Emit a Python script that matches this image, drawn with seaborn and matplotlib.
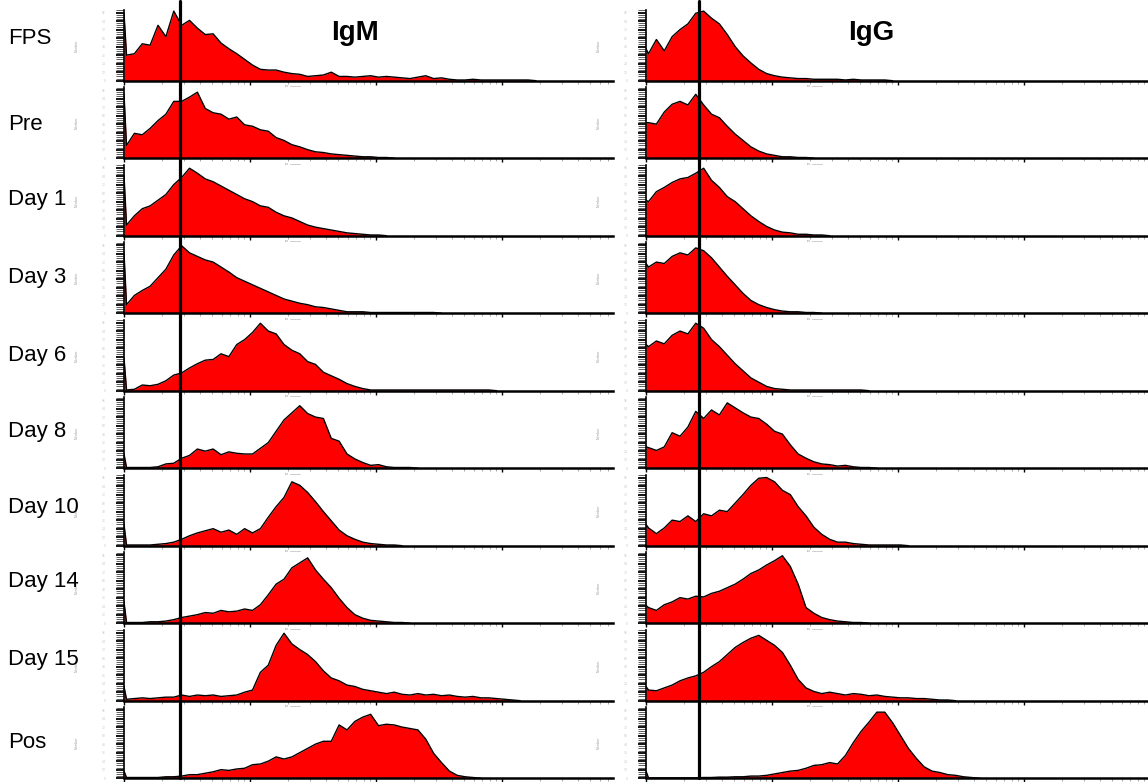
import numpy as np
import matplotlib
matplotlib.use("Agg")
import matplotlib.pyplot as plt
import seaborn as sns

# ---------------- data ----------------
samples = ["FPS", "Pre", "Day 1", "Day 3", "Day 6", "Day 8", "Day 10", "Day 14", "Day 15", "Pos"]
isotypes = ["IgM", "IgG"]

# Histogram heights (% of full scale), one value per 1/16-decade channel,
# first channel at 10^0.02; the "spike" is the first (lowest) channel at 10^0.
igm_fps = [36, 38, 52, 50, 78, 62, 98, 78, 85, 74, 65, 66, 53, 45, 38, 30, 22, 16, 15, 15,
           12, 10, 9, 6, 7, 8, 12, 6, 6, 5, 6, 7, 5, 6, 5, 4, 3, 5, 7, 3,
           4, 2, 1, 1, 2, 1, 1, 1, 1, 1, 1, 1, 0]
igm_pre = [18, 35, 33, 42, 53, 62, 80, 80, 86, 93, 70, 64, 62, 55, 58, 47, 45, 40, 38, 29,
           25, 19, 16, 12, 9, 8, 6, 5, 4, 3, 2, 2, 1, 1, 0]
igm_day1 = [15, 28, 38, 42, 50, 58, 72, 82, 95, 88, 80, 76, 70, 64, 58, 52, 48, 42, 40, 33,
            28, 25, 20, 15, 12, 10, 8, 6, 4, 3, 2, 1, 1, 0]
igm_day3 = [12, 25, 32, 38, 50, 62, 82, 95, 85, 80, 75, 72, 65, 58, 50, 45, 40, 35, 30, 25,
            20, 17, 14, 12, 9, 8, 6, 4, 2, 2, 2, 1, 1, 1, 1, 1, 1, 1, 1, 1, 0]
igm_day6 = [1, 2, 8, 7, 9, 14, 22, 25, 32, 38, 43, 44, 52, 48, 65, 72, 82, 95, 84, 80,
            65, 57, 52, 41, 37, 26, 21, 16, 10, 6, 3, 1, 1, 1, 1, 1, 1, 1, 1, 1,
            1, 1, 1, 1, 1, 1, 1, 0]
igm_day8 = [1, 1, 1, 1, 2, 6, 7, 14, 18, 27, 24, 27, 19, 23, 21, 20, 20, 28, 36, 52,
            68, 78, 88, 77, 72, 70, 42, 38, 20, 13, 8, 4, 5, 2, 1, 1, 1, 0]
igm_day10 = [1, 1, 1, 1, 2, 3, 5, 9, 14, 18, 21, 24, 19, 22, 16, 24, 18, 24, 40, 55,
             68, 90, 85, 75, 62, 48, 35, 22, 14, 9, 5, 3, 2, 1, 1, 0]
igm_day14 = [1, 1, 1, 2, 2, 3, 5, 8, 10, 12, 15, 14, 18, 16, 17, 20, 18, 26, 40, 55,
             62, 78, 85, 92, 75, 62, 50, 35, 22, 12, 7, 4, 3, 2, 1, 1, 0]
igm_day15 = [2, 3, 4, 3, 4, 5, 5, 8, 6, 8, 7, 8, 6, 7, 8, 12, 15, 40, 50, 78,
             95, 80, 72, 65, 55, 42, 32, 28, 22, 20, 16, 14, 12, 10, 12, 9, 8, 10, 8, 9,
             7, 8, 6, 5, 6, 4, 4, 3, 2, 1, 0]
igm_pos = [1, 1, 1, 1, 1, 2, 2, 3, 5, 5, 7, 9, 12, 11, 13, 14, 19, 20, 24, 30,
           27, 30, 36, 42, 48, 52, 52, 75, 68, 80, 86, 90, 74, 76, 75, 72, 70, 68, 55, 35,
           22, 10, 4, 2, 1, 0]

igg_fps = [38, 58, 42, 62, 72, 80, 95, 98, 88, 80, 65, 48, 35, 25, 16, 10, 7, 5, 4, 3,
           3, 2, 2, 2, 2, 1, 2, 1, 1, 1, 1, 0]
igg_pre = [50, 48, 65, 76, 80, 75, 90, 75, 62, 57, 45, 34, 25, 16, 10, 6, 4, 2, 2, 1, 1, 0]
igg_day1 = [48, 62, 68, 75, 80, 82, 88, 95, 78, 68, 55, 48, 38, 28, 20, 13, 8, 5, 4, 2,
            2, 1, 1, 0]
igg_day3 = [65, 72, 70, 80, 85, 82, 92, 88, 78, 65, 52, 40, 28, 18, 12, 8, 5, 3, 2, 2, 1, 1, 0]
igg_day6 = [62, 70, 66, 78, 84, 80, 95, 88, 72, 62, 50, 38, 28, 18, 12, 6, 3, 2, 1, 1,
            1, 1, 1, 1, 1, 1, 1, 1, 0]
igg_day8 = [29, 25, 30, 50, 45, 58, 80, 70, 82, 75, 92, 85, 78, 72, 70, 62, 52, 48, 33, 20,
            14, 9, 6, 5, 3, 4, 2, 1, 1, 0]
igg_day10 = [25, 17, 25, 36, 34, 42, 34, 45, 42, 50, 48, 60, 72, 85, 95, 96, 90, 78, 72, 55,
             42, 26, 16, 9, 5, 5, 3, 2, 1, 1, 1, 1, 1, 0]
igg_day14 = [22, 18, 26, 30, 36, 34, 38, 37, 42, 45, 50, 55, 62, 70, 75, 82, 88, 95, 80, 55,
             22, 14, 8, 5, 3, 2, 1, 1, 0]
igg_day15 = [15, 14, 18, 22, 28, 32, 35, 40, 48, 55, 65, 75, 82, 88, 92, 85, 78, 68, 50, 30,
             18, 13, 10, 12, 10, 8, 10, 9, 7, 8, 6, 5, 4, 4, 3, 3, 2, 1, 1, 0]
igg_pos = [0.5, 0.5, 0.5, 0.5, 0.5, 0.5, 0.5, 1, 1, 1.5, 1.5, 2, 2, 3, 3, 4, 6, 8, 10, 11,
           14, 18, 19, 22, 20, 32, 50, 66, 79, 93, 93, 78, 60, 42, 28, 16, 10, 8, 5, 4,
           2, 1, 0]

igm_spike = [95, 90, 85, 85, 46, 20, 30, 30, 20, 10]
igg_spike = [45, 50, 50, 70, 65, 30, 30, 25, 20, 10]

# gate marker position (fluorescence units)
gate_igm = 2.78
gate_igg = 2.63

counts = {
    "IgM": [igm_fps, igm_pre, igm_day1, igm_day3, igm_day6, igm_day8, igm_day10,
            igm_day14, igm_day15, igm_pos],
    "IgG": [igg_fps, igg_pre, igg_day1, igg_day3, igg_day6, igg_day8, igg_day10,
            igg_day14, igg_day15, igg_pos],
}
spikes = {"IgM": igm_spike, "IgG": igg_spike}
gates = {"IgM": gate_igm, "IgG": gate_igg}

# ---------------- layout ----------------
sns.set_theme(style="ticks")
plt.rcParams["font.family"] = ["Liberation Sans", "DejaVu Sans"]
plt.rcParams["text.color"] = "black"

W, H = 1148, 782
fig = plt.figure(figsize=(W / 100, H / 100), dpi=100)
fig.patch.set_facecolor("white")

col_left = {"IgM": 124, "IgG": 646}
col_width = {"IgM": 489, "IgG": 504}
decade_px = 126.0
panel_h = 71.0
first_base = 80.7
row_step = 77.5
label_y = [38, 125, 200, 277, 355, 432, 508, 582, 660, 743]

for i, sample in enumerate(samples):
    yb = first_base + row_step * i
    for iso in isotypes:
        left = col_left[iso]
        width = col_width[iso]
        ax = fig.add_axes([left / W, 1 - yb / H, width / W, panel_h / H])
        ax.set_facecolor("white")
        ax.set_xscale("log")
        ax.set_xlim(1, 10 ** (width / decade_px))
        ax.set_ylim(0, 100)

        vals = np.asarray(counts[iso][i], dtype=float)
        x = np.concatenate([[1.0], 10 ** (0.02 + np.arange(len(vals)) / 16.0)])
        y = np.concatenate([[spikes[iso][i]], vals])
        ax.fill_between(x, y, 0, color="#ff0000", lw=0, zorder=2)
        sns.lineplot(x=x, y=y, ax=ax, color="black", lw=1.0, estimator=None,
                     sort=False, zorder=3)

        # gate line running continuously through the rows
        ymin = 0 if i == len(samples) - 1 else -(row_step - panel_h) / panel_h - 0.01
        ymax = 1.12 if i == 0 else 1.0
        ax.axvline(gates[iso], ymin=ymin, ymax=ymax, color="black", lw=2.3,
                   clip_on=False, zorder=6)

        for s in ["top", "right"]:
            ax.spines[s].set_visible(False)
        ax.spines["bottom"].set_linewidth(1.8)
        ax.spines["bottom"].set_color("black")
        ax.spines["left"].set_linewidth(1.2)
        ax.spines["left"].set_color("black")

        ax.set_yticks(np.arange(0, 100, 12))
        ax.set_yticks(np.arange(0, 100, 3), minor=True)
        ax.set_yticklabels([str(v) for v in range(0, 100, 12)])
        ax.tick_params(axis="y", which="major", left=True, length=6, width=1.3,
                       color="black", direction="out", labelsize=2.5,
                       labelcolor="#cccccc", pad=7)
        ax.tick_params(axis="y", which="minor", left=True, length=6, width=0.6,
                       color="#444444")
        ax.tick_params(axis="x", which="major", bottom=True, length=3, width=1,
                       color="black", labelbottom=False)
        ax.tick_params(axis="x", which="minor", bottom=True, length=2, width=0.6,
                       color="#999999", labelbottom=False)
        ax.set_xlabel("")
        ax.set_ylabel("")

        ax.text(-47 / width, 0.5, "Number", transform=ax.transAxes, rotation=90,
                fontsize=2.5, color="#999999", ha="center", va="center")
        if i < len(samples) - 1:
            ax.text(10 ** 1.34, -0.09, "FL orange", transform=ax.get_xaxis_transform(),
                    fontsize=2.5, color="#888888", ha="center", va="center")

    fig.text(8 / W, 1 - label_y[i] / H, sample, fontsize=16, color="black",
             ha="left", va="center")

fig.text(355 / W, 1 - 33 / H, "IgM", fontsize=20, fontweight="bold", color="black",
         ha="center", va="center")
fig.text(871 / W, 1 - 33 / H, "IgG", fontsize=20, fontweight="bold", color="black",
         ha="center", va="center")

fig.savefig("out.png", dpi=100, facecolor="white")
